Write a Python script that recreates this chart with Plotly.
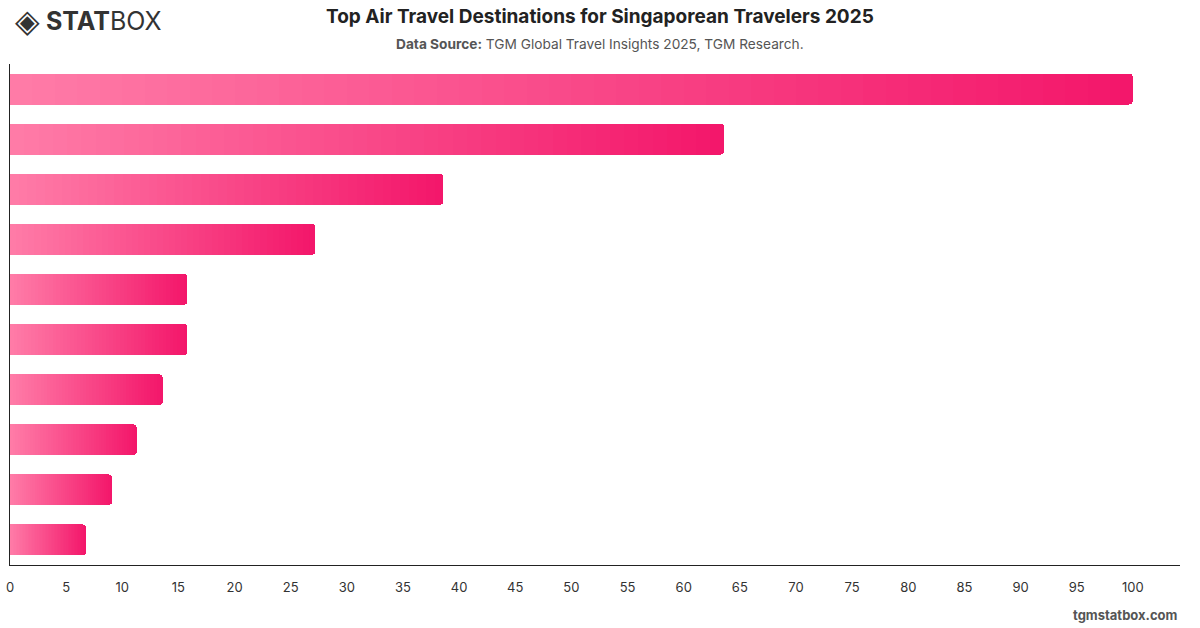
import plotly.graph_objects as go

# ---- data ----
ranks = ["#1", "#2", "#3", "#4", "#5", "#6", "#7", "#8", "#9", "#10"]
values = [100, 63.6, 38.6, 27.2, 15.8, 15.8, 13.6, 11.3, 9.1, 6.8]
x_ticks = list(range(0, 101, 5))

# ---- gradient (per bar, left light -> right deep pink) ----
c_start = (255, 124, 168)
c_end = (243, 22, 106)
N = 50

fig = go.Figure()
for i in range(N):
    t = (i + 0.5) / N
    col = "rgb({},{},{})".format(*[round(a + (b - a) * t) for a, b in zip(c_start, c_end)])
    fig.add_trace(go.Bar(
        y=ranks,
        x=[v / N for v in values],
        orientation="h",
        marker=dict(color=col, line=dict(width=0)),
        hoverinfo="skip",
        showlegend=False,
    ))

W, H = 1200, 628
l, r, t, b = 10, 20, 64, 63
pw, ph = W - l - r, H - t - b


def px(x):
    return (x - l) / pw


def py(y):
    return 1 - (y - t) / ph


fig.update_layout(
    width=W, height=H,
    barmode="stack",
    bargap=0.38,
    barcornerradius=4,
    plot_bgcolor="white",
    paper_bgcolor="white",
    margin=dict(l=l, r=r, t=t, b=b, pad=0),
    font=dict(family="Inter, Roboto, Arial, sans-serif", color="#333"),
    xaxis=dict(
        range=[0, 104.2],
        tickvals=x_ticks,
        showgrid=False,
        zeroline=False,
        showline=True,
        linecolor="#222",
        linewidth=1,
        ticks="",
        ticklabelstandoff=10,
        tickfont=dict(size=13, color="#333"),
        automargin=False,
        fixedrange=True,
    ),
    yaxis=dict(
        categoryorder="array",
        categoryarray=ranks[::-1],
        showticklabels=False,
        showgrid=False,
        zeroline=False,
        showline=True,
        linecolor="#222",
        linewidth=1,
        ticks="",
        automargin=False,
        fixedrange=True,
    ),
    annotations=[
        dict(text="<b>Top Air Travel Destinations for Singaporean Travelers 2025</b>",
             x=px(600), y=py(17), xref="paper", yref="paper", showarrow=False,
             font=dict(size=19, color="#222"), xanchor="center", yanchor="middle"),
        dict(text="<b>Data Source:</b> TGM Global Travel Insights 2025, TGM Research.",
             x=px(600), y=py(44), xref="paper", yref="paper", showarrow=False,
             font=dict(size=13.7, color="#555"), xanchor="center", yanchor="middle"),
        dict(text="<b>tgmstatbox.com</b>",
             x=px(1180), y=py(615), xref="paper", yref="paper", showarrow=False,
             font=dict(size=13, color="#555"), xanchor="right", yanchor="middle"),
        dict(text="◈",
             x=px(13), y=py(21), xref="paper", yref="paper", showarrow=False,
             font=dict(size=32, color="#333"), xanchor="left", yanchor="middle"),
        dict(text="<b>STAT</b>BOX",
             x=px(44), y=py(21), xref="paper", yref="paper", showarrow=False,
             font=dict(size=25, color="#333"), xanchor="left", yanchor="middle"),
    ],
)

fig.write_html("out.html")
